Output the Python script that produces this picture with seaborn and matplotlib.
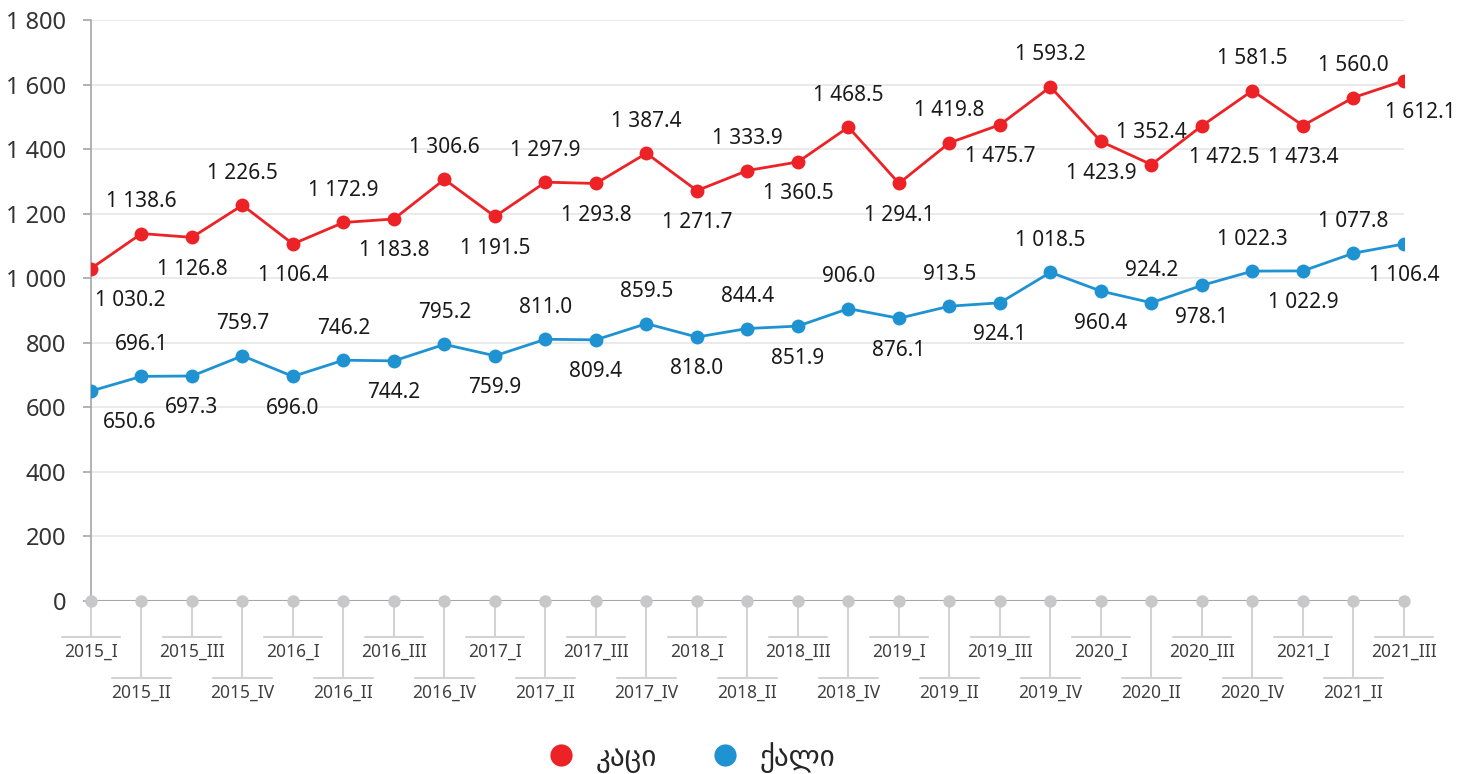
import pandas as pd
import matplotlib.pyplot as plt
import seaborn as sns
from matplotlib.lines import Line2D

# quarters on the x axis
quarters = ["2015_I", "2015_II", "2015_III", "2015_IV",
            "2016_I", "2016_II", "2016_III", "2016_IV",
            "2017_I", "2017_II", "2017_III", "2017_IV",
            "2018_I", "2018_II", "2018_III", "2018_IV",
            "2019_I", "2019_II", "2019_III", "2019_IV",
            "2020_I", "2020_II", "2020_III", "2020_IV",
            "2021_I", "2021_II", "2021_III"]

men = [1030.2, 1138.6, 1126.8, 1226.5, 1106.4, 1172.9, 1183.8, 1306.6,
       1191.5, 1297.9, 1293.8, 1387.4, 1271.7, 1333.9, 1360.5, 1468.5,
       1294.1, 1419.8, 1475.7, 1593.2, 1423.9, 1352.4, 1472.5, 1581.5,
       1473.4, 1560.0, 1612.1]
women = [650.6, 696.1, 697.3, 759.7, 696.0, 746.2, 744.2, 795.2,
         759.9, 811.0, 809.4, 859.5, 818.0, 844.4, 851.9, 906.0,
         876.1, 913.5, 924.1, 1018.5, 960.4, 924.2, 978.1, 1022.3,
         1022.9, 1077.8, 1106.4]

series_names = ["კაცი", "ქალი"]
series_colors = ["#ED2226", "#1F93D2"]
y_ticks = [0, 200, 400, 600, 800, 1000, 1200, 1400, 1600, 1800]

n = len(quarters)
df = pd.DataFrame({
    "pos": list(range(n)) * 2,
    "value": men + women,
    "group": [series_names[0]] * n + [series_names[1]] * n,
})

sns.set_style("white")
plt.rcParams["font.family"] = ["Noto Sans", "DejaVu Sans"]


def fmt(v):
    # thousands separated by a space, one decimal
    return f"{v:,.1f}".replace(",", " ")


fig = plt.figure(figsize=(14.67, 7.74), dpi=100)
ax = fig.add_axes([0.062, 0.2235, 0.895, 0.7505])

sns.lineplot(data=df, x="pos", y="value", hue="group", hue_order=series_names,
             palette=series_colors, marker="o", markersize=10, markeredgewidth=0,
             linewidth=2, ax=ax, legend=False, zorder=4)

# data labels, alternating below / above
for vals in (men, women):
    for i, v in enumerate(vals):
        up = i % 2 == 1
        dx = 0
        if i == 0:
            dx = 28
        elif vals is men and i == n - 1:
            dx = 12
        elif vals is men and i == 22:
            dx = 16  # nudged clear of the neighbouring label
        weight = "bold" if (vals is men and i == 1) else "normal"
        ax.annotate(fmt(v), (i, v), xytext=(dx, 23 if up else -23),
                    textcoords="offset points", ha="center", va="center",
                    fontsize=15, color="#1A1A1A", fontweight=weight,
                    annotation_clip=False, zorder=5)

ax.set_xlim(0, n - 1)
ax.set_ylim(0, 1800)
ax.set_yticks(y_ticks)
ax.set_yticklabels([f"{t:,}".replace(",", " ") for t in y_ticks])
ax.set_xticks([])
ax.set_xlabel("")
ax.set_ylabel("")
ax.yaxis.grid(True, color="#E6E6E6", linewidth=1.2)
ax.set_axisbelow(True)

for side in ("top", "right", "bottom"):
    ax.spines[side].set_visible(False)
ax.spines["left"].set_color("#A6A6A6")
ax.spines["left"].set_linewidth(1.2)
ax.tick_params(axis="y", length=6, width=1.2, color="#A6A6A6",
               labelsize=17, labelcolor="#333333", pad=12, left=True)

# zero baseline with category dots
ax.axhline(0, color="#A6A6A6", linewidth=1.5, zorder=3)
ax.scatter(range(n), [0] * n, s=80, color="#C8C8CA", zorder=4, clip_on=False,
           linewidths=0)

# staggered category labels under the axis
for i, q in enumerate(quarters):
    y_end = -238 if i % 2 == 1 else -112
    ax.plot([i, i], [0, y_end], color="#D3D3D3", linewidth=1.5,
            clip_on=False, zorder=2)
    ax.plot([i - 0.58, i + 0.58], [y_end, y_end], color="#D3D3D3",
            linewidth=1.5, clip_on=False, zorder=2)
    ax.text(i, y_end - 45, q, ha="center", va="center", fontsize=12.5,
            color="#404040", clip_on=False)

handles = [Line2D([], [], linestyle="none", marker="o", markersize=16,
                  markerfacecolor=c, markeredgewidth=0) for c in series_colors]
fig.legend(handles, series_names, loc="lower center", ncol=2,
           bbox_to_anchor=(0.466, -0.032), frameon=False, handletextpad=0.2,
           columnspacing=1.3, prop={"family": "DejaVu Sans", "size": 21})

fig.savefig("out.png", dpi=100)
